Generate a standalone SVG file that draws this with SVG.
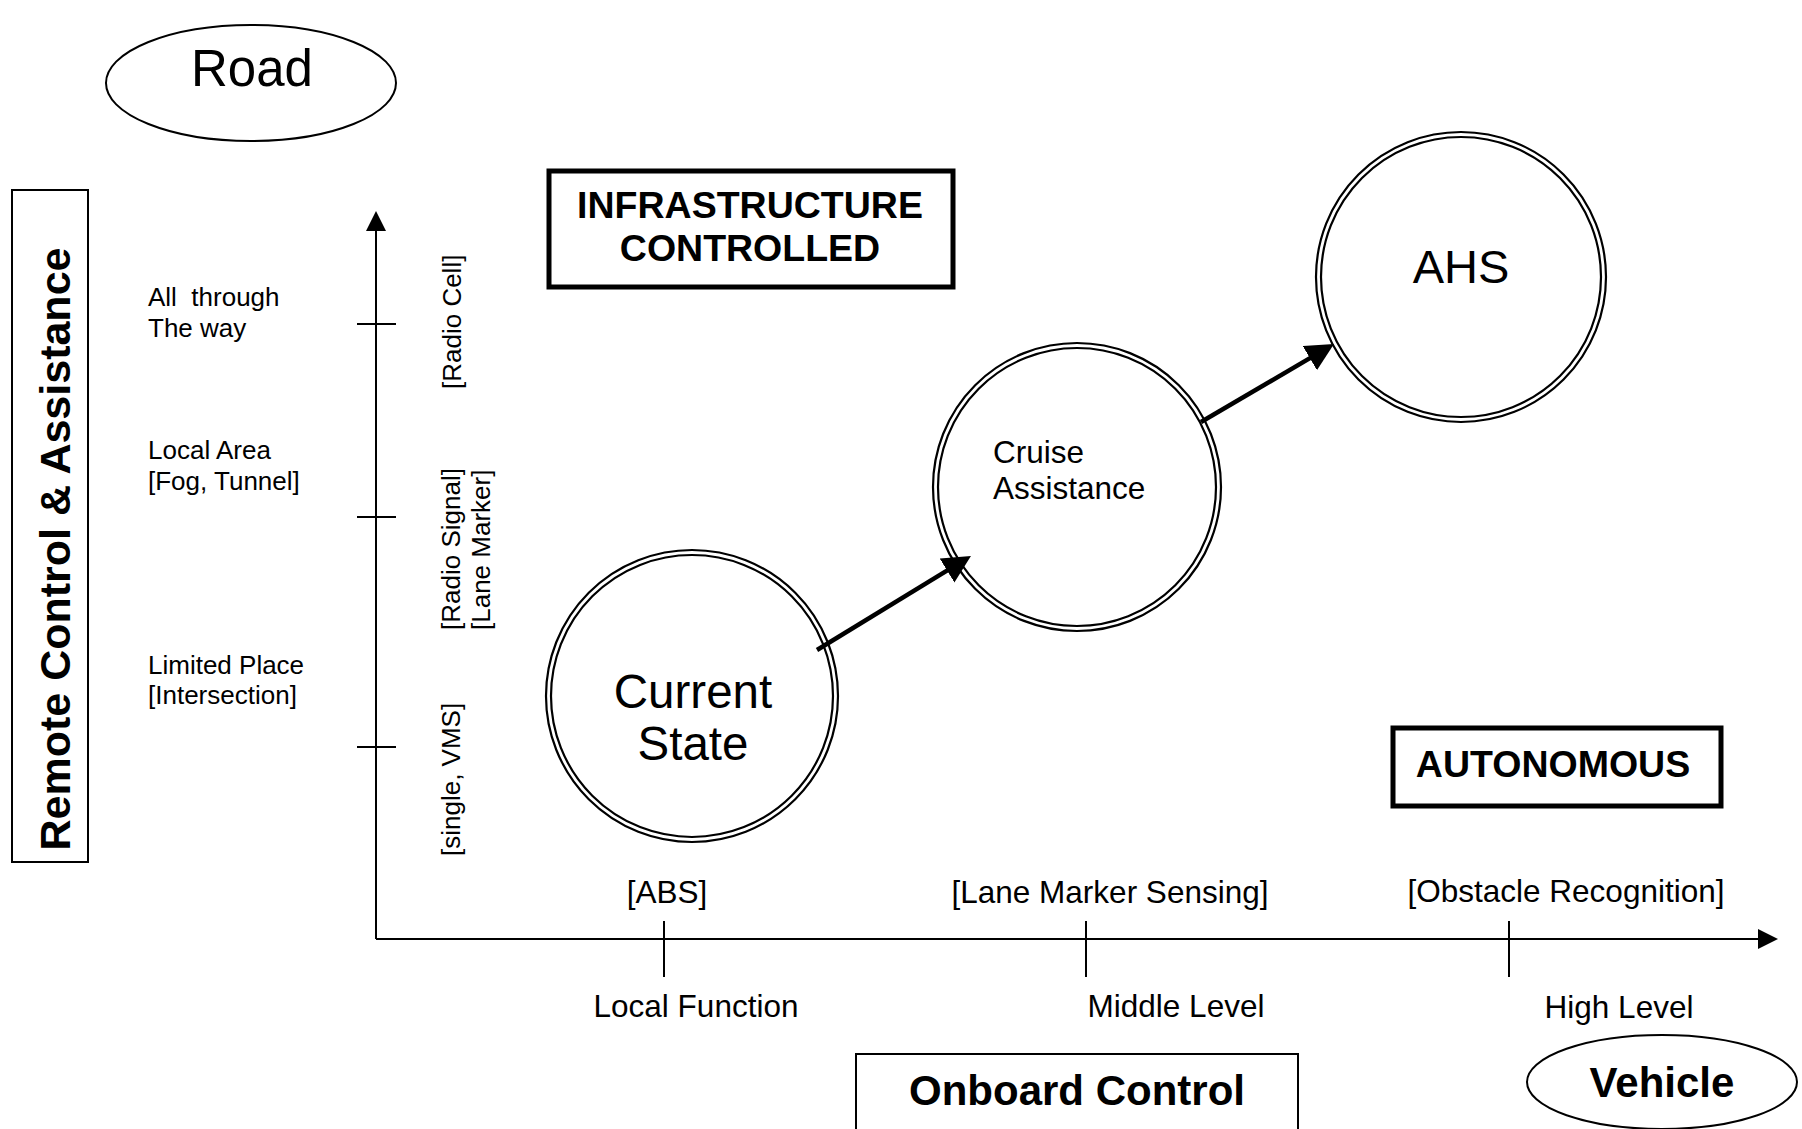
<svg xmlns="http://www.w3.org/2000/svg" width="1802" height="1129" viewBox="0 0 1802 1129">
<style>
text{font-family:"Liberation Sans",Arial,sans-serif;fill:#000}
.b{font-weight:bold}
.thin{fill:none;stroke:#000;stroke-width:2}
.thick{fill:#fff;stroke:#000;stroke-width:5}
.ring{fill:none;stroke:#000;stroke-width:2.2}
.lab{font-size:26px}
.ax{font-size:31.5px}
.conn{stroke:#000;stroke-width:4.5;fill:none}
</style>
<defs>
<marker id="ah" markerUnits="userSpaceOnUse" markerWidth="30" markerHeight="30" refX="8" refY="14" orient="auto">
<path d="M0,0 L28,14 L0,28 z" fill="#000"/>
</marker>
</defs>
<rect width="1802" height="1129" fill="#fff"/>

<g id="road">
<ellipse class="thin" cx="251" cy="83" rx="145" ry="58"/>
<text x="252" y="86" font-size="51" text-anchor="middle">Road</text>
</g>

<g id="remote-control-title">
<rect class="thin" x="12" y="190" width="76" height="672"/>
<text class="b" x="70" y="549" font-size="43" text-anchor="middle" transform="rotate(-90 70 549)">Remote Control &amp; Assistance</text>
</g>

<g id="axes">
<line class="thin" x1="376" y1="939" x2="376" y2="228"/>
<polygon points="376,211 366,231 386,231" fill="#000"/>
<line class="thin" x1="376" y1="939" x2="1760" y2="939"/>
<polygon points="1778,939 1758,929 1758,949" fill="#000"/>
<line class="thin" x1="357" y1="324" x2="396" y2="324"/>
<line class="thin" x1="357" y1="517" x2="396" y2="517"/>
<line class="thin" x1="357" y1="747" x2="396" y2="747"/>
<line class="thin" x1="664" y1="921" x2="664" y2="977"/>
<line class="thin" x1="1086" y1="921" x2="1086" y2="977"/>
<line class="thin" x1="1509" y1="921" x2="1509" y2="977"/>
</g>

<g id="y-labels" class="lab">
<text x="148" y="306" xml:space="preserve">All  through</text>
<text x="148" y="337">The way</text>
<text x="148" y="459">Local Area</text>
<text x="148" y="490">[Fog, Tunnel]</text>
<text x="148" y="674">Limited Place</text>
<text x="148" y="704">[Intersection]</text>
<text x="461" y="389" transform="rotate(-90 461 389)">[Radio Cell]</text>
<text x="460" y="630" transform="rotate(-90 460 630)">[Radio Signal]</text>
<text x="490" y="630" transform="rotate(-90 490 630)">[Lane Marker]</text>
<text x="460" y="856" transform="rotate(-90 460 856)">[single, VMS]</text>
</g>

<g id="x-labels" class="ax" text-anchor="middle">
<text x="667" y="903">[ABS]</text>
<text x="1110" y="903">[Lane Marker Sensing]</text>
<text x="1566" y="902">[Obstacle Recognition]</text>
<text x="696" y="1017">Local Function</text>
<text x="1176" y="1017">Middle Level</text>
<text x="1619" y="1018">High Level</text>
</g>

<g id="infrastructure-controlled">
<rect class="thick" x="549" y="171" width="404" height="116"/>
<text class="b" x="750" y="218" font-size="37.5" text-anchor="middle">INFRASTRUCTURE</text>
<text class="b" x="750" y="261" font-size="37.5" text-anchor="middle">CONTROLLED</text>
</g>

<g id="autonomous">
<rect class="thick" x="1393" y="728" width="328" height="78"/>
<text class="b" x="1553" y="777" font-size="37.5" text-anchor="middle">AUTONOMOUS</text>
</g>

<g id="onboard-control">
<rect class="thin" x="856" y="1054" width="442" height="100"/>
<text class="b" x="1077" y="1105" font-size="42" text-anchor="middle">Onboard Control</text>
</g>

<g id="vehicle">
<ellipse class="thin" cx="1662" cy="1082" rx="135" ry="47"/>
<text class="b" x="1662" y="1097" font-size="42" text-anchor="middle">Vehicle</text>
</g>

<g id="current-state">
<circle class="ring" cx="692" cy="696" r="146"/>
<circle class="ring" cx="692" cy="696" r="141"/>
<text x="693" y="708" font-size="47.5" text-anchor="middle">Current</text>
<text x="693" y="760" font-size="47.5" text-anchor="middle">State</text>
</g>

<g id="cruise-assistance">
<circle class="ring" cx="1077" cy="487" r="144"/>
<circle class="ring" cx="1077" cy="487" r="139"/>
<text x="993" y="463" font-size="31.5">Cruise</text>
<text x="993" y="499" font-size="31.5">Assistance</text>
</g>

<g id="ahs">
<circle class="ring" cx="1461" cy="277" r="145"/>
<circle class="ring" cx="1461" cy="277" r="140"/>
<text x="1461" y="283" font-size="47" text-anchor="middle">AHS</text>
</g>

<g id="connectors">
<line class="conn" x1="817" y1="650" x2="953.9" y2="566.4" marker-end="url(#ah)"/>
<line class="conn" x1="1201" y1="422" x2="1316.75" y2="354.1" marker-end="url(#ah)"/>
</g>
</svg>
